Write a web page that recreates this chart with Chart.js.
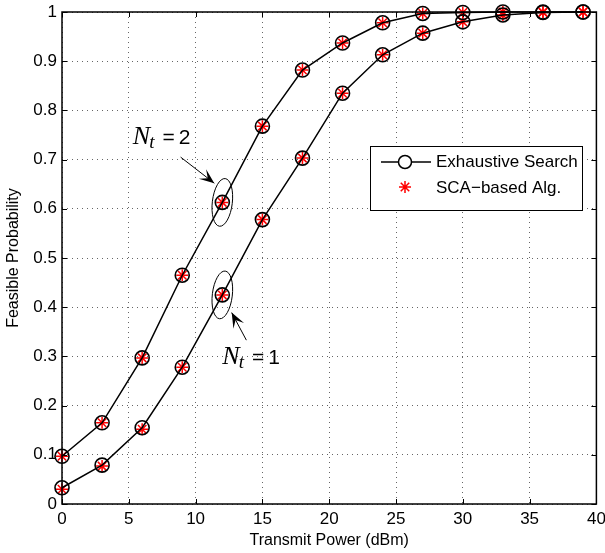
<!DOCTYPE html>
<html>
<head>
<meta charset="utf-8">
<script src="https://cdn.jsdelivr.net/npm/chart.js@4/dist/chart.umd.min.js"></script>
<style>
  html, body { margin: 0; padding: 0; background: #fff; }
  #wrap { width: 605px; height: 553px; }
</style>
</head>
<body>
<div id="wrap"><canvas id="c" width="605" height="553"></canvas></div>
<script>
// transmit power points (dBm)
const power = [0, 3, 6, 9, 12, 15, 18, 21, 24, 27, 30, 33, 36, 39];

// feasible probability, Nt = 2
const esNt2 = [0.097, 0.165, 0.297, 0.465, 0.613, 0.768, 0.882, 0.937, 0.978, 0.997, 0.999, 1.0, 1.0, 1.0];
const scaNt2 = [0.097, 0.165, 0.297, 0.465, 0.613, 0.768, 0.882, 0.937, 0.978, 0.997, 0.999, 1.0, 1.0, 1.0];

// feasible probability, Nt = 1
const esNt1 = [0.033, 0.079, 0.155, 0.278, 0.425, 0.578, 0.703, 0.835, 0.913, 0.957, 0.980, 0.994, 0.999, 1.0];
const scaNt1 = [0.030, 0.077, 0.152, 0.278, 0.425, 0.578, 0.703, 0.835, 0.913, 0.957, 0.980, 0.994, 0.999, 1.0];

const xTicks = [0, 5, 10, 15, 20, 25, 30, 35, 40];
const yTicks = [0, 0.1, 0.2, 0.3, 0.4, 0.5, 0.6, 0.7, 0.8, 0.9, 1];

const legendLabels = ['Exhaustive Search', 'SCA\u2212based Alg.'];

const toPts = (ys) => ys.map((y, i) => ({ x: power[i], y: y }));

const FONT = '"Liberation Sans", Arial, Helvetica, sans-serif';
const SERIF = '"Liberation Serif", "Times New Roman", serif';

// annotations: text / ellipse / arrow positions in data units
const notes = [
  { label: '2', text: [5.3, 0.732], ell: [12, 0.613], arrow: [[8.88, 0.705], [11.4, 0.652]] },
  { label: '1', text: [12.0, 0.285], ell: [12, 0.425], arrow: [[13.8, 0.333], [12.7, 0.389]] },
];

const extras = {
  id: 'extras',
  afterDraw(chart) {
    const { ctx, chartArea: a, scales: { x, y } } = chart;
    ctx.save();

    // inner tick marks on all four sides
    ctx.strokeStyle = '#000';
    ctx.lineWidth = 1;
    ctx.beginPath();
    xTicks.forEach((t) => {
      const px = Math.round(x.getPixelForValue(t)) + 0.5;
      ctx.moveTo(px, a.bottom); ctx.lineTo(px, a.bottom - 5);
      ctx.moveTo(px, a.top); ctx.lineTo(px, a.top + 5);
    });
    yTicks.forEach((t) => {
      const py = Math.round(y.getPixelForValue(t)) + 0.5;
      ctx.moveTo(a.left, py); ctx.lineTo(a.left + 5, py);
      ctx.moveTo(a.right, py); ctx.lineTo(a.right - 5, py);
    });
    ctx.stroke();

    // box
    ctx.lineWidth = 1.5;
    ctx.strokeRect(a.left, a.top, a.right - a.left, a.bottom - a.top);

    // axis titles
    ctx.fillStyle = '#000';
    ctx.font = '16px ' + FONT;
    ctx.textAlign = 'center';
    ctx.textBaseline = 'middle';
    ctx.fillText('Transmit Power (dBm)', (a.left + a.right) / 2, 541);
    ctx.save();
    ctx.translate(14, (a.top + a.bottom) / 2);
    ctx.rotate(-Math.PI / 2);
    ctx.fillText('Feasible Probability', 0, 0);
    ctx.restore();

    // annotations
    notes.forEach((n) => {
      const cx = x.getPixelForValue(n.ell[0]);
      const cy = y.getPixelForValue(n.ell[1]);
      ctx.lineWidth = 1;
      ctx.beginPath();
      ctx.ellipse(cx, cy, 10, 24, 0.12, 0, Math.PI * 2);
      ctx.stroke();

      const x0 = x.getPixelForValue(n.arrow[0][0]);
      const y0 = y.getPixelForValue(n.arrow[0][1]);
      const x1 = x.getPixelForValue(n.arrow[1][0]);
      const y1 = y.getPixelForValue(n.arrow[1][1]);
      const ang = Math.atan2(y1 - y0, x1 - x0);
      ctx.beginPath();
      ctx.moveTo(x0, y0);
      ctx.lineTo(x1, y1);
      ctx.stroke();
      // arrow head
      const L = 15, W = 6;
      ctx.beginPath();
      ctx.moveTo(x1, y1);
      ctx.lineTo(x1 - L * Math.cos(ang) + W * Math.sin(ang), y1 - L * Math.sin(ang) - W * Math.cos(ang));
      ctx.lineTo(x1 - 0.55 * L * Math.cos(ang), y1 - 0.55 * L * Math.sin(ang));
      ctx.lineTo(x1 - L * Math.cos(ang) - W * Math.sin(ang), y1 - L * Math.sin(ang) + W * Math.cos(ang));
      ctx.closePath();
      ctx.fill();

      // label N_t = k
      const tx = x.getPixelForValue(n.text[0]);
      const ty = y.getPixelForValue(n.text[1]);
      ctx.textAlign = 'left';
      ctx.textBaseline = 'alphabetic';
      ctx.font = 'italic 26px ' + SERIF;
      ctx.fillText('N', tx, ty);
      let w = ctx.measureText('N').width;
      ctx.font = 'italic 19px ' + SERIF;
      ctx.fillText('t', tx + w - 1, ty + 4);
      w += ctx.measureText('t').width + 7;
      ctx.font = '21px ' + FONT;
      ctx.fillText('=', tx + w, ty);
      w += ctx.measureText('=').width + 4;
      ctx.fillText(n.label, tx + w, ty);
    });

    // legend box
    const lx = 370, ly = 146, lw = 212, lh = 64;
    ctx.fillStyle = '#fff';
    ctx.fillRect(lx, ly, lw, lh);
    ctx.lineWidth = 1;
    ctx.strokeStyle = '#000';
    ctx.strokeRect(lx + 0.5, ly + 0.5, lw, lh);
    ctx.lineWidth = 1.5;
    ctx.beginPath();
    ctx.moveTo(381, 162); ctx.lineTo(431, 162);
    ctx.stroke();
    ctx.beginPath();
    ctx.arc(405, 162, 6.5, 0, Math.PI * 2);
    ctx.fillStyle = '#fff';
    ctx.fill();
    ctx.stroke();
    ctx.strokeStyle = '#ff0000';
    ctx.beginPath();
    for (let k = 0; k < 4; k++) {
      const t = k * Math.PI / 4;
      ctx.moveTo(405 - 6 * Math.cos(t), 187 - 6 * Math.sin(t));
      ctx.lineTo(405 + 6 * Math.cos(t), 187 + 6 * Math.sin(t));
    }
    ctx.stroke();
    ctx.fillStyle = '#000';
    ctx.font = '17px ' + FONT;
    ctx.textAlign = 'left';
    ctx.textBaseline = 'middle';
    ctx.fillText(legendLabels[0], 436, 162);
    ctx.fillText(legendLabels[1], 436, 188);

    ctx.restore();
  },
};

const esStyle = {
  borderColor: '#000',
  borderWidth: 1.5,
  pointStyle: 'circle',
  pointRadius: 7,
  pointBorderColor: '#000',
  pointBackgroundColor: 'rgba(0,0,0,0)',
  pointBorderWidth: 1.6,
  showLine: true,
  tension: 0,
  clip: false,
};
const scaStyle = {
  showLine: false,
  pointStyle: 'star',
  pointRadius: 6,
  pointBorderColor: '#ff0000',
  pointBackgroundColor: '#ff0000',
  pointBorderWidth: 1.5,
  clip: false,
};

const fmt = (v) => String(Math.round(v * 10) / 10);

new Chart(document.getElementById('c').getContext('2d'), {
  type: 'scatter',
  data: {
    datasets: [
      Object.assign({ label: legendLabels[0], data: toPts(esNt2) }, esStyle),
      Object.assign({ label: legendLabels[0], data: toPts(esNt1) }, esStyle),
      Object.assign({ label: legendLabels[1], data: toPts(scaNt2) }, scaStyle),
      Object.assign({ label: legendLabels[1], data: toPts(scaNt1) }, scaStyle),
    ],
  },
  options: {
    responsive: false,
    animation: false,
    layout: { padding: { left: 0, right: 7, top: 12, bottom: 0 } },
    plugins: { legend: { display: false }, tooltip: { enabled: false } },
    scales: {
      x: {
        type: 'linear',
        min: 0,
        max: 40,
        afterBuildTicks: (s) => { s.ticks = xTicks.map((v) => ({ value: v })); },
        afterFit: (s) => { s.height = 49; s.paddingLeft = 0; s.paddingRight = 0; },
        ticks: { color: '#000', font: { family: FONT, size: 17 }, padding: 5, maxRotation: 0, callback: fmt },
        grid: { color: '#666', lineWidth: 1, drawTicks: false },
        border: { display: false, dash: [1, 4] },
      },
      y: {
        type: 'linear',
        min: 0,
        max: 1,
        afterBuildTicks: (s) => { s.ticks = yTicks.map((v) => ({ value: v })); },
        afterFit: (s) => { s.width = 62; s.paddingTop = 0; s.paddingBottom = 0; },
        ticks: { color: '#000', font: { family: FONT, size: 17 }, padding: 5, callback: fmt },
        grid: { color: '#666', lineWidth: 1, drawTicks: false },
        border: { display: false, dash: [1, 4] },
      },
    },
  },
  plugins: [extras],
});
</script>
</body>
</html>
